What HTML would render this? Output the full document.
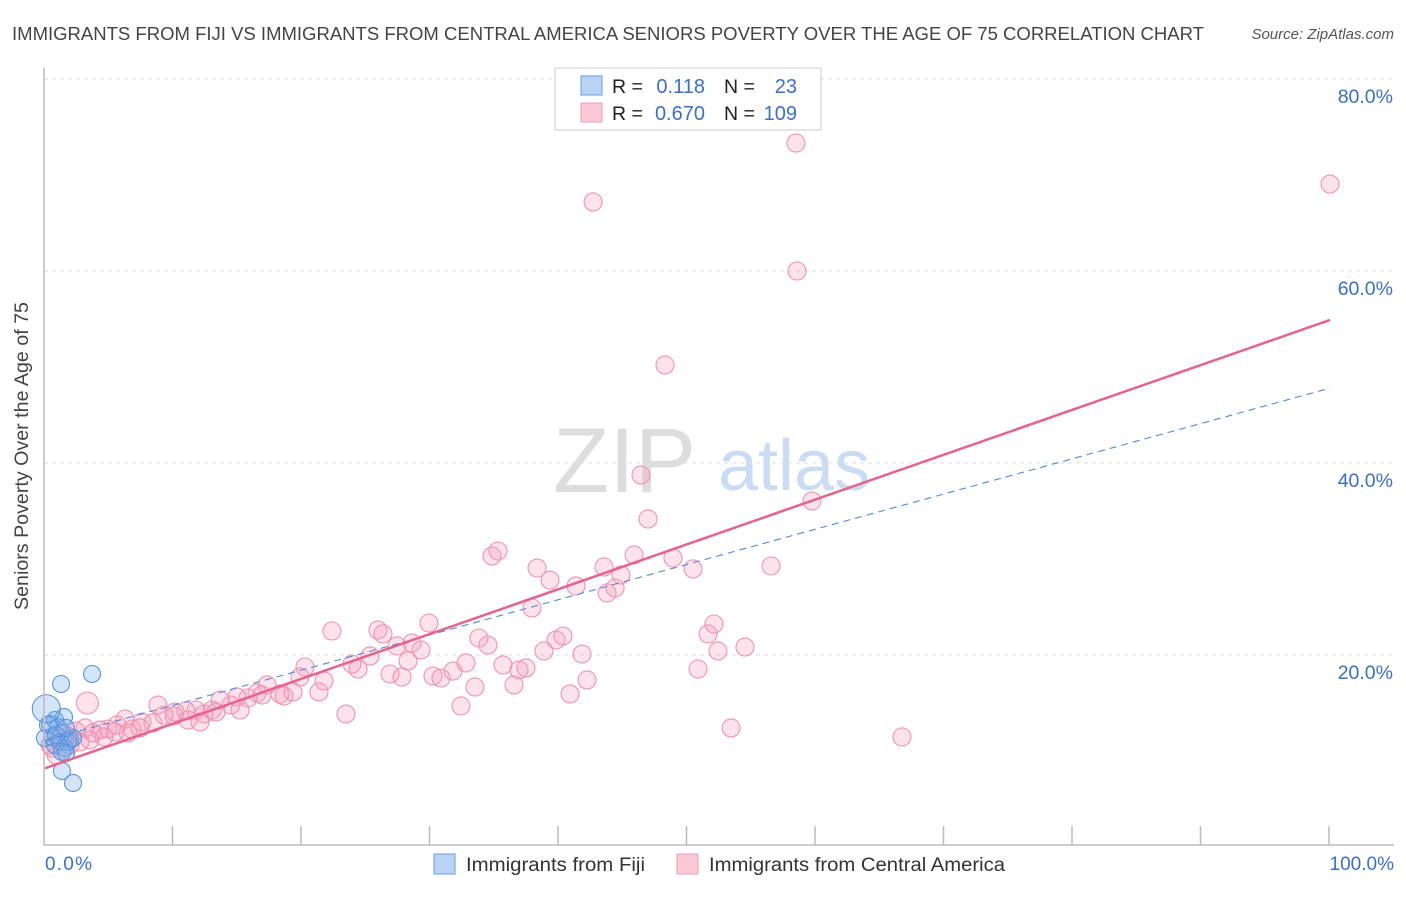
<!DOCTYPE html>
<html><head><meta charset="utf-8"><style>
body{margin:0;background:#fff;font-family:"Liberation Sans",sans-serif}
svg text{font-family:"Liberation Sans",sans-serif}
</style></head><body>
<svg id="c" width="1406" height="892" xmlns="http://www.w3.org/2000/svg">
<text x="12" y="40" font-size="18" fill="#444" textLength="1192" lengthAdjust="spacingAndGlyphs">IMMIGRANTS FROM FIJI VS IMMIGRANTS FROM CENTRAL AMERICA SENIORS POVERTY OVER THE AGE OF 75 CORRELATION CHART</text>
<text x="1394" y="39" font-size="15" fill="#555" font-style="italic" text-anchor="end">Source: ZipAtlas.com</text>
<g>
<text x="553" y="492" font-size="92" fill="#ddd" font-family="Liberation Serif">ZIP</text>
<text x="718" y="490" font-size="72" fill="#c9dcf3">atlas</text>
</g>
<g id="grid"></g>
<g id="pts"></g>
<g id="lines"></g>
<line x1="44" y1="68" x2="44" y2="845" stroke="#bbb" stroke-width="1.5"/>
<line x1="44" y1="845" x2="1394" y2="845" stroke="#bbb" stroke-width="1.5"/>
<text x="28" y="456" font-size="19" fill="#444" text-anchor="middle" textLength="308" lengthAdjust="spacingAndGlyphs" transform="rotate(-90 28 456)">Seniors Poverty Over the Age of 75</text>
<text x="45" y="870" font-size="19" fill="#3a6fd0" textLength="47">0.0%</text>
<text x="1394" y="870" font-size="19" fill="#3a6fd0" text-anchor="end">100.0%</text>
<g>
<rect x="555" y="68" width="266" height="62" fill="#fff" stroke="#ccc"/>
<rect x="581" y="76" width="21" height="19" fill="#b9d3f5" stroke="#6a9de0"/>
<rect x="581" y="103" width="21" height="19" fill="#fbc8d8" stroke="#ef9ab6"/>
<text x="612" y="93" font-size="19.5" fill="#222">R = </text><text x="705" y="93" font-size="20" fill="#3a6fd0" text-anchor="end">0.118</text>
<text x="724" y="93" font-size="19.5" fill="#222">N = </text><text x="797" y="93" font-size="20" fill="#3a6fd0" text-anchor="end">23</text>
<text x="612" y="120" font-size="19.5" fill="#222">R = </text><text x="705" y="120" font-size="20" fill="#3a6fd0" text-anchor="end">0.670</text>
<text x="724" y="120" font-size="19.5" fill="#222">N = </text><text x="797" y="120" font-size="20" fill="#3a6fd0" text-anchor="end">109</text>
</g>
<g>
<rect x="434" y="854" width="21" height="20" fill="#b9d3f5" stroke="#6a9de0"/>
<text x="466" y="871" font-size="19" fill="#333" textLength="179" lengthAdjust="spacingAndGlyphs">Immigrants from Fiji</text>
<rect x="677" y="854" width="21" height="20" fill="#fbc8d8" stroke="#ef9ab6"/>
<text x="709" y="871" font-size="19" fill="#333" textLength="296" lengthAdjust="spacingAndGlyphs">Immigrants from Central America</text>
</g>
</svg>
<script>
const yTicks=[20,40,60,80];
const yTickLabels=["20.0%","40.0%","60.0%","80.0%"];
const xTicks=[10,20,30,40,50,60,70,80,90,100];
const pinkPx=[[796,143],[1330,184],[593,202],[797,271],[665,365],[641,475],[648,519],[812,501],[492,556],[498,551],[537,568],[550,580],[576,586],[604,567],[634,555],[621,575],[615,588],[607,593],[673,558],[693,569],[771,566],[532,608],[429,623],[332,631],[378,630],[383,634],[397,646],[412,643],[421,650],[479,638],[488,645],[556,640],[563,636],[544,651],[582,654],[708,634],[714,624],[718,651],[745,647],[305,667],[352,664],[358,669],[370,656],[408,661],[390,674],[402,677],[433,676],[441,678],[453,671],[466,663],[503,665],[519,670],[526,668],[475,687],[514,685],[570,694],[587,680],[698,669],[461,706],[731,728],[902,737],[346,714],[300,677],[324,681],[319,692],[280,694],[293,692],[267,685],[257,693],[248,698],[237,697],[231,705],[220,700],[212,710],[204,714],[196,710],[186,711],[175,712],[164,715],[153,723],[158,705],[142,722],[132,729],[125,719],[117,725],[108,729],[100,730],[93,733],[85,728],[76,731],[68,736],[60,738],[52,748],[174,716],[188,720],[200,722],[216,712],[240,710],[262,695],[284,696],[140,728],[128,733],[115,732],[104,737],[90,740],[70,745],[56,755],[50,745],[80,742]];
const fijiPx=[[61,684],[92,674],[55,720],[64,717],[50,724],[58,727],[62,733],[70,740],[55,745],[65,748],[45,738],[52,737],[60,742],[68,742],[73,738],[62,752],[66,753],[62,771],[73,783],[48,725],[56,735],[66,728]];
// values derived from picture (x %, y %)
const caX=pinkPx.map(p=>+((p[0]-45)/12.85).toFixed(2));
const caY=pinkPx.map(p=>+((847-p[1])/9.6).toFixed(2));
const fijiX=fijiPx.map(p=>+((p[0]-45)/12.85).toFixed(2));
const fijiY=fijiPx.map(p=>+((847-p[1])/9.6).toFixed(2));
const caBigX=[3.3], caBigY=[15.0];
const fijiBigX=[0.1], fijiBigY=[14.4];
const caTrend=[8.2,54.9];
const fijiTrend=[11.1,47.8];
const sx=v=>45+v*12.85, sy=v=>847-v*9.6;
const NS="http://www.w3.org/2000/svg";
function mk(t,a,parent){const e=document.createElementNS(NS,t);for(const k in a)e.setAttribute(k,a[k]);document.getElementById(parent).appendChild(e);return e;}
yTicks.forEach((v,i)=>{
 const l=mk('line',{x1:44,x2:1394,y1:sy(v),y2:sy(v),stroke:'#ddd','stroke-dasharray':'4,4'},'grid');
 
 
 const t=mk('text',{x:1393,y:sy(v)+24,'font-size':19.5,fill:'#3a6fd0','text-anchor':'end'},'grid');
 t.textContent=yTickLabels[i];
 
 
});
xTicks.forEach(v=>{
 const l=mk('line',{x1:sx(v)-1,x2:sx(v)-1,y1:826,y2:845,stroke:'#bbb','stroke-width':1.5},'grid');
 
 
});
function dot(x,y,r,fill,stroke,name){
 const c=mk('circle',{cx:sx(x),cy:sy(y),r:r,fill:fill,stroke:stroke,'stroke-width':1.1},'pts');
 
 
}
caX.forEach((x,i)=>dot(x,caY[i],9,'rgba(246,160,188,0.3)','#ee93b2','point-central-america'));
caBigX.forEach((x,i)=>dot(x,caBigY[i],11,'rgba(246,160,188,0.3)','#ee93b2','point-central-america'));
fijiX.forEach((x,i)=>dot(x,fijiY[i],8.5,'rgba(120,170,235,0.32)','#5a93da','point-fiji'));
fijiBigX.forEach((x,i)=>dot(x,fijiBigY[i],14,'rgba(120,170,235,0.32)','#5a93da','point-fiji'));
const fl=mk('line',{x1:sx(0),y1:sy(fijiTrend[0]),x2:sx(100),y2:sy(fijiTrend[1]),stroke:'#5588d8','stroke-width':1.1,'stroke-dasharray':'7,5'},'lines');


const cl=mk('line',{x1:sx(0),y1:sy(caTrend[0]),x2:sx(100),y2:sy(caTrend[1]),stroke:'#e8628e','stroke-width':2.5},'lines');


</script>
</body></html>
